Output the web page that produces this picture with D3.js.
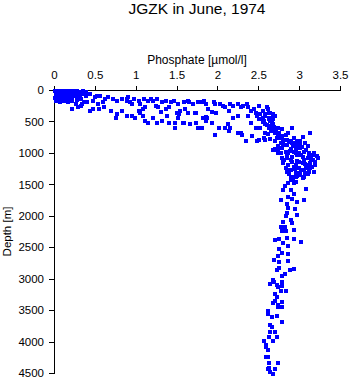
<!DOCTYPE html>
<html><head><meta charset="utf-8">
<script src="https://cdn.jsdelivr.net/npm/d3@7"></script>
<style>
html,body{margin:0;padding:0;background:#fff;}
svg text{font-family:"Liberation Sans",Arial,Helvetica,sans-serif;fill:#000;}
</style></head>
<body><svg id="c" width="350" height="384"></svg>
<script>
const title = "JGZK in June, 1974";
const xLabel = "Phosphate [\u00b5mol/l]";
const yLabel = "Depth [m]";
const xTicks = [0, 0.5, 1, 1.5, 2, 2.5, 3, 3.5];
const yTicks = [0, 500, 1000, 1500, 2000, 2500, 3000, 3500, 4000, 4500];

// [phosphate µmol/l, depth m]
const surfaceLayer = [
[0.01,5],[0.03,25],[0.02,55],[0.04,85],[0.01,115],[0.03,140],[0.06,10],[0.07,45],[0.05,70],[0.08,95],
[0.06,125],[0.09,155],[0.1,15],[0.11,35],[0.12,65],[0.09,85],[0.13,110],[0.11,135],[0.15,5],[0.16,40],
[0.14,60],[0.17,90],[0.15,120],[0.18,150],[0.19,20],[0.21,45],[0.2,75],[0.22,100],[0.19,125],[0.23,15],
[0.25,35],[0.24,65],[0.26,90],[0.27,120],[0.28,10],[0.3,45],[0.29,70],[0.31,100],[0.33,25],[0.34,60],
[0.32,130],[0.36,35],[0.02,170],[0.07,180],[0.12,165],[0.17,175],[0.22,160],[0.27,150],[0.04,0],[0.13,0],
[0.2,0],[0.26,0],[0.35,5],[0.38,20],[0.33,250],[0.36,190],[0.26,220],[0.16,170],[0.05,145],[0.22,290],
[0.29,270],[0.38,80],[0.44,50],[0.5,110],[0.56,80],[0.62,130],[0.66,110],[0.72,130],[0.77,160],[0.83,130],
[0.89,160],[0.47,160],[0.53,210],[0.59,190],[0.9,110],[0.4,190],[0.34,210],[0.52,80]
];
const upperBand = [
[0.43,330],[0.47,290],[0.54,290],[0.6,270],[0.69,320],[0.75,430],[0.77,380],[0.83,320],[0.89,400],
[0.89,130],[0.93,190],[0.97,130],[1.03,160],[1.05,210],[1.09,130],[1.14,160],[1.18,130],[1.21,160],[1.26,140],
[1.24,240],[1.32,180],[1.36,160],[1.42,190],[1.46,160],[1.4,270],[1.36,290],[1.51,220],[1.54,320],[1.58,180],
[1.63,160],[1.69,210],[1.75,190],[1.81,180],[1.11,270],[1.03,320],[1.08,290],[0.95,210],[1.27,270],
[0.89,400],[0.95,410],[0.99,430],[1.05,350],[1.08,400],[1.11,480],[1.14,510],[1.21,430],[1.26,510],[1.32,480],
[1.38,400],[1.4,510],[1.48,510],[1.51,430],[1.52,370],[1.58,510],[1.48,600],[1.66,540],[1.73,510],[1.73,350],
[1.81,600],[1.82,430],[1.57,510],[1.76,590],[1.63,350],[1.6,300],[1.3,335],[1.5,350],
[1.83,160],[1.85,210],[1.95,180],[1.97,210],[1.98,350],[1.87,430],[1.85,480],[1.93,510],[1.81,600],[1.97,700],
[2.01,600],[2.06,240],[2.09,270],[2.15,210],[2.18,250],[2.13,320],[2.18,430],[2.25,210],[2.28,270],[2.24,400],
[2.12,530],[2.09,590],[2.15,600],[2.13,640],[2.24,670],[2.28,670],[2.3,700],[2.34,800],[1.64,190],[1.72,350],
[1.85,415],[1.93,335],[1.88,300],[2.03,220],[2.31,250]
];
const thermocline = [
[2.36,210],[2.37,270],[2.4,320],[2.37,400],[2.4,510],[2.42,720],[2.46,590],[2.5,240],[2.44,290],[2.46,350],
[2.48,400],[2.5,450],[2.51,370],[2.55,320],[2.55,430],[2.56,480],[2.58,370],[2.58,530],[2.61,290],[2.62,430],
[2.62,590],[2.64,350],[2.64,480],[2.67,640],[2.68,530],[2.7,400],[2.7,670],[2.61,690],[2.64,770],[2.56,750],
[2.58,670],[2.73,750],[2.74,690],[2.7,930],[2.74,990],[2.62,560],[2.52,600],[2.68,450],[2.6,270],[2.62,350],
[2.67,380],[2.68,415],[2.5,780],[2.58,780],[2.55,495],[2.67,575],[2.73,590],[3.13,670],[3.04,735],
[2.77,750],[2.85,780],[2.89,810],[2.95,830],[3.01,810],[3.07,830],[3.1,890],[2.93,890],[2.8,860],[2.74,700],
[2.83,700],[2.93,750],[2.86,670],[2.79,620],[2.7,650],[2.91,600],
[2.52,380],[2.57,410],[2.63,460],[2.66,520],[2.6,550],[2.69,580],[2.71,620],[2.65,650],[2.75,680],[2.78,720],
[2.72,760],[2.82,790]
];
const intermediate = [
[2.48,800],[2.7,800],[2.77,830],[2.8,810],[2.85,860],[2.91,830],[2.97,810],[3.01,860],[3.07,830],[2.79,910],
[2.7,940],[2.89,930],[2.95,940],[3.01,910],[3.05,970],[3.11,990],[3.17,1020],[3.23,1070],[2.77,990],[2.86,990],
[2.91,1050],[2.97,1020],[3.04,1050],[3.1,1070],[3.16,1100],[2.85,1070],[2.91,1130],[2.97,1120],[3.04,1150],[3.1,1180],
[3.13,1150],[2.8,1150],[2.86,1180],[2.93,1210],[2.99,1230],[3.05,1260],[3.11,1290],[2.89,1260],[2.95,1310],[3.01,1310],
[2.85,1290],[2.91,1370],[2.97,1360],[2.89,1420],[2.95,1450],[2.93,1470],[2.74,940],[2.83,970],[2.93,970],[2.99,990],
[2.79,1070],[3.05,1100],[3.19,1180],[2.83,1230],[2.73,890],[2.68,940],[3.13,1230],[3.17,1290],[3.04,1390],[2.86,1470],
[2.87,820],[2.92,870],[2.98,880],[3.03,900],[3.08,950],[2.88,960],[2.96,1000],[3.02,1030],[3.12,1060],[3.14,1090],
[2.9,1100],[2.99,1140],[3.07,1170],[3.15,1210],[2.94,1250],[3.02,1270],[3.08,1230],[2.87,1330],[3.0,1350],[2.92,1400],
[3.1,1330],[2.84,1010],[2.81,1110],[3.19,1130],[3.21,1040],[3.18,1000],[2.96,1180],[3.06,1320],[2.8,1130],[2.85,1260],
[2.89,1390],[2.95,1370],[3.1,1310],[3.05,1370],[3.16,1020]
];
const deepWater = [
[2.8,1580],[2.89,1580],[3.08,1560],[2.77,1740],[2.86,1690],[2.91,1720],[2.97,1770],[3.05,1740],[2.86,1870],[2.94,1880],
[2.85,1950],[2.83,1990],[2.97,1980],[2.89,2060],[2.8,2090],[2.91,2100],[2.77,2170],[2.82,2170],[2.79,2230],[2.83,2230],
[2.93,2220],[2.7,2380],[2.75,2360],[2.85,2340],[2.93,2360],[3.02,2410],[2.8,2420],[2.86,2470],[2.75,2520],[2.79,2580],
[2.86,2600],[2.73,2630],[2.69,2700],[2.75,2730],[2.86,2710],[2.72,2850],[2.75,2820],[2.88,2850],[2.93,2840],[2.79,2950],
[2.82,2920],[2.79,3050],[2.67,3010],[2.69,3050],[2.64,3080],[2.72,3090],[2.74,3130],[2.78,3110],[2.77,3190],[2.83,3190],
[2.7,3240],[2.72,3290],[2.7,3350],[2.79,3370],[2.67,3380],[2.74,3410],[2.74,3450],[2.79,3450],[2.61,3510],[2.61,3560],
[2.66,3600],[2.72,3590],[2.78,3680],[2.64,3730],[2.66,3760],[2.64,3840],[2.7,3840],[2.62,3920],[2.72,3920],[2.67,3990],
[2.56,3990],[2.59,4040],[2.59,4080],[2.61,4120],[2.59,4230],[2.61,4240],[2.63,4340],[2.74,4340],[2.62,4420],[2.61,4430],
[2.7,4430],[2.64,4480],[2.67,4500],[2.82,1520],[2.93,1640],[2.84,1810]
];

const svg = d3.select("#c");
const x = d3.scaleLinear().domain([0, 3.5]).range([54, 340]);
const y = d3.scaleLinear().domain([0, 4500]).range([90, 373]);

// title and labels
svg.append("text").attr("x", 197).attr("y", 14).attr("text-anchor", "middle")
  .style("font-size", "15.5px").text(title);
svg.append("text").attr("x", 197).attr("y", 64).attr("text-anchor", "middle")
  .style("font-size", "12px").text(xLabel);
svg.append("text").attr("transform", "translate(11," + ((90 + 373) / 2) + ") rotate(-90)")
  .attr("text-anchor", "middle").style("font-size", "11.5px").text(yLabel);

// axes
const gx = svg.append("g").attr("transform", "translate(0,90)")
  .call(d3.axisTop(x).tickValues(xTicks).tickFormat(d3.format("")).tickSize(4).tickSizeOuter(0).tickPadding(7));
const gy = svg.append("g").attr("transform", "translate(54,0)")
  .call(d3.axisLeft(y).tickValues(yTicks).tickFormat(d3.format("")).tickSize(5).tickSizeOuter(0).tickPadding(5));
[gx, gy].forEach(g => {
  g.selectAll("text").style("font-size", "11.5px").attr("fill", "#000")
   .style("font-family", "'Liberation Sans',Arial,Helvetica,sans-serif");
  g.selectAll("path,line").attr("stroke", "#000").attr("shape-rendering", "crispEdges");
});

// points
const all = [].concat(surfaceLayer, upperBand, thermocline, intermediate, deepWater);
svg.append("g").selectAll("rect").data(all).join("rect")
  .attr("x", d => Math.round(x(d[0]) - 1.5))
  .attr("y", d => Math.round(y(d[1]) - 1.5))
  .attr("width", 3.5).attr("height", 3.5)
  .attr("fill", "#0000ff").attr("shape-rendering", "crispEdges");
</script>
</body></html>
